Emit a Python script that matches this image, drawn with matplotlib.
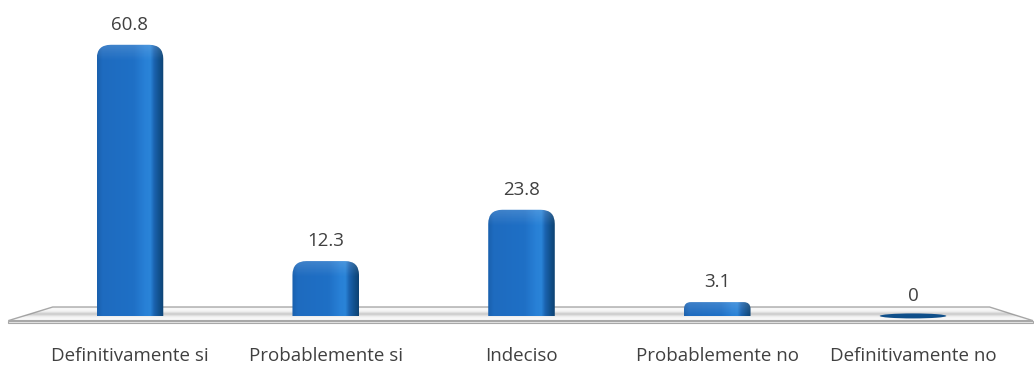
import numpy as np
import matplotlib.pyplot as plt
from matplotlib.patches import FancyBboxPatch, Ellipse, Polygon
from matplotlib.colors import LinearSegmentedColormap
import matplotlib.transforms as mtransforms

categories = ["Definitivamente si", "Probablemente si", "Indeciso",
              "Probablemente no", "Definitivamente no"]
values = [60.8, 12.3, 23.8, 3.1, 0]

plt.rcParams['font.family'] = ['Open Sans', 'DejaVu Sans']
text_color = "#404040"

W, H, DPI = 10.34, 3.69, 100
fig = plt.figure(figsize=(W, H), dpi=DPI)
ax = fig.add_axes([0, 0, 1, 1])
ax.set_xlim(-0.664, 4.618)
ax.set_ylim(-11.9, 70.85)
ax.axis("off")

# pixels per data unit, used to keep the rounded corners circular
px_x = W * DPI / (ax.get_xlim()[1] - ax.get_xlim()[0])
px_y = H * DPI / (ax.get_ylim()[1] - ax.get_ylim()[0])
aspect = px_x / px_y

# floor plane (in axes fraction)
top_face = Polygon([(0.051, 0.168), (0.957, 0.168), (0.999, 0.131), (0.008, 0.131)],
                   closed=True, transform=ax.transAxes, facecolor="#f7f7f7",
                   edgecolor="#a8a8a8", lw=1.0, zorder=1)
front_face = Polygon([(0.008, 0.131), (0.999, 0.131), (0.999, 0.124), (0.008, 0.124)],
                     closed=True, transform=ax.transAxes, facecolor="#e6e6e6",
                     edgecolor="#a8a8a8", lw=0.8, zorder=1)
ax.add_patch(top_face)
ax.add_patch(front_face)
# soft shadow band across the middle of the floor
band = np.linspace(0, 1, 40)
shade = np.exp(-((band - 0.5) / 0.15) ** 2)
floor_img = np.ones((40, 1, 4))
floor_img[..., :3] = 0.5
floor_img[..., 3] = 0.35 * shade[:, None]
ax.imshow(floor_img, extent=(0, 1, 0.131, 0.168), transform=ax.transAxes,
          aspect="auto", zorder=1.5, clip_path=top_face, interpolation="bilinear")

# horizontal shading of a bar face
bar_cmap = LinearSegmentedColormap.from_list("bar", [
    (0.00, "#1a60ad"), (0.08, "#1e6bbf"), (0.55, "#1f70c6"),
    (0.72, "#2880d6"), (0.80, "#2a84d8"), (0.86, "#1a62ae"),
    (0.93, "#12528f"), (1.00, "#0d4272")])
grad = bar_cmap(np.linspace(0, 1, 200))[None, :, :]

bar_w = 0.34
radius = 14 / px_x

for i, v in enumerate(values):
    x0 = i - bar_w / 2
    if v > 0:
        r = min(radius, 0.5 * v / aspect)
        ext = r * aspect
        # box runs below the floor so only the top corners show rounded
        box = FancyBboxPatch((x0, -ext), bar_w, v + ext,
                             boxstyle=f"round,pad=0,rounding_size={r}",
                             mutation_aspect=aspect, facecolor="none",
                             edgecolor="none", zorder=3)
        ax.add_patch(box)
        ax.imshow(grad, extent=(x0, x0 + bar_w, 0, v), aspect="auto",
                  zorder=3, clip_path=box, interpolation="bilinear")
        # lighter top cap
        top_img = np.zeros((30, 1, 4))
        top_img[..., :3] = 1.0
        top_img[..., 3] = np.linspace(0.15, 0, 30)[:, None]
        cap_h = min(v, 16 / px_y)
        ax.imshow(top_img, extent=(x0, x0 + bar_w, v - cap_h, v), aspect="auto",
                  zorder=3.5, clip_path=box, interpolation="bilinear")
    else:
        # a zero value shows as a flat disc on the floor
        ax.add_patch(Ellipse((i, 0), bar_w * 1.0, 5 / px_y, facecolor="#0f4f8a",
                             edgecolor="none", zorder=2))
    ax.annotate(f"{v:g}", (i, v), xytext=(0, 14.5), textcoords="offset points",
                ha="center", va="center", fontsize=13.5, color=text_color, zorder=5)

trans = mtransforms.blended_transform_factory(ax.transData, ax.transAxes)
for i, c in enumerate(categories):
    ax.text(i, 0.036, c, transform=trans, ha="center", va="center",
            fontsize=13.5, color=text_color)

fig.savefig("out.png", dpi=DPI)
